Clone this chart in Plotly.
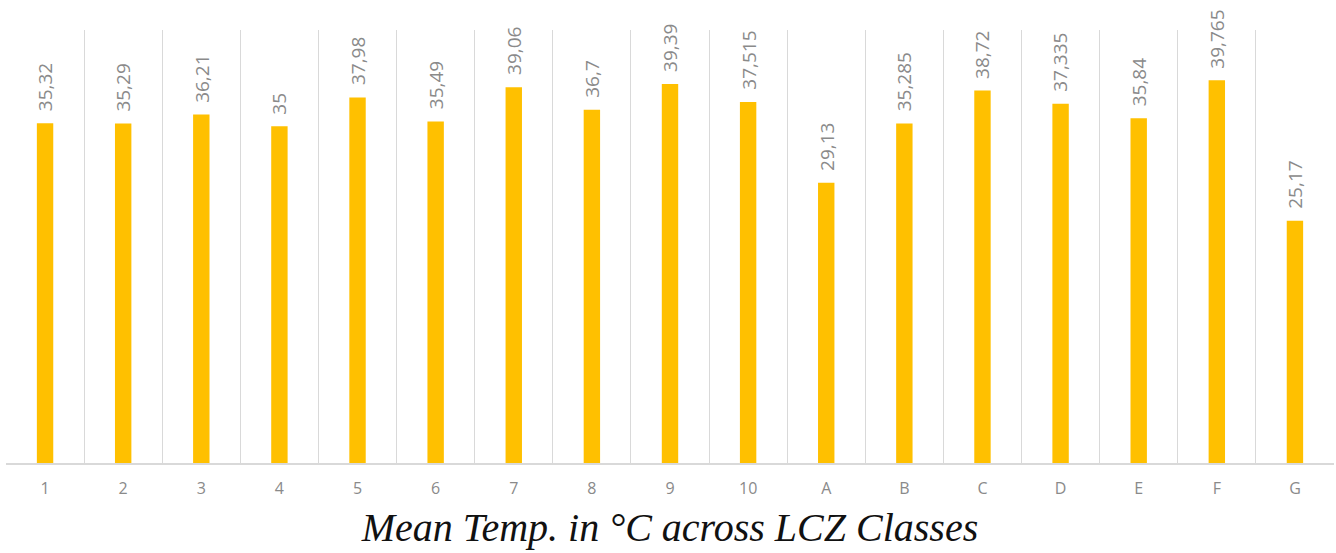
import plotly.graph_objects as go

categories = ["1", "2", "3", "4", "5", "6", "7", "8", "9", "10",
              "A", "B", "C", "D", "E", "F", "G"]
mean_temp = [35.32, 35.29, 36.21, 35.0, 37.98, 35.49, 39.06, 36.7, 39.39, 37.515,
             29.13, 35.285, 38.72, 37.335, 35.84, 39.765, 25.17]
value_labels = ["35,32", "35,29", "36,21", "35", "37,98", "35,49", "39,06", "36,7", "39,39",
                "37,515", "29,13", "35,285", "38,72", "37,335", "35,84", "39,765", "25,17"]
title_text = "Mean Temp. in °C across LCZ Classes"

fig = go.Figure()
fig.add_trace(go.Bar(
    x=categories, y=mean_temp,
    marker=dict(color="#FFC000", line=dict(width=0)),
    hoverinfo="skip",
))

for i, (v, t) in enumerate(zip(mean_temp, value_labels)):
    fig.add_annotation(
        x=i, y=v, text=t, textangle=-90, showarrow=False,
        xanchor="center", yanchor="bottom", yshift=10,
        font=dict(family="Open Sans", size=19, color="#8a8a8a"),
    )

fig.update_layout(
    width=1336, height=553,
    margin=dict(l=6, r=2, t=30, b=90),
    paper_bgcolor="white", plot_bgcolor="white",
    bargap=0.79,
    showlegend=False,
    title=dict(
        text="<i>" + title_text + "</i>",
        font=dict(family="Liberation Serif", size=40, color="#111111"),
        x=0.5, xref="paper", xanchor="center",
        y=1 - 527 / 553, yref="container", yanchor="middle",
    ),
)
fig.update_xaxes(
    type="category", tickson="boundaries", showgrid=True,
    gridcolor="#d9d9d9", gridwidth=1,
    showline=True, linecolor="#d9d9d9", linewidth=2,
    ticks="", ticklabelstandoff=10,
    tickfont=dict(family="Open Sans", size=16, color="#8a8a8a"),
    zeroline=False,
)
fig.update_yaxes(range=[0, 45], showgrid=False, showticklabels=False,
                 zeroline=False, showline=False)

fig.write_html("out.html",
               config={"displayModeBar": False},
               post_script="document.body.style.margin='0';document.body.style.overflow='hidden';")
